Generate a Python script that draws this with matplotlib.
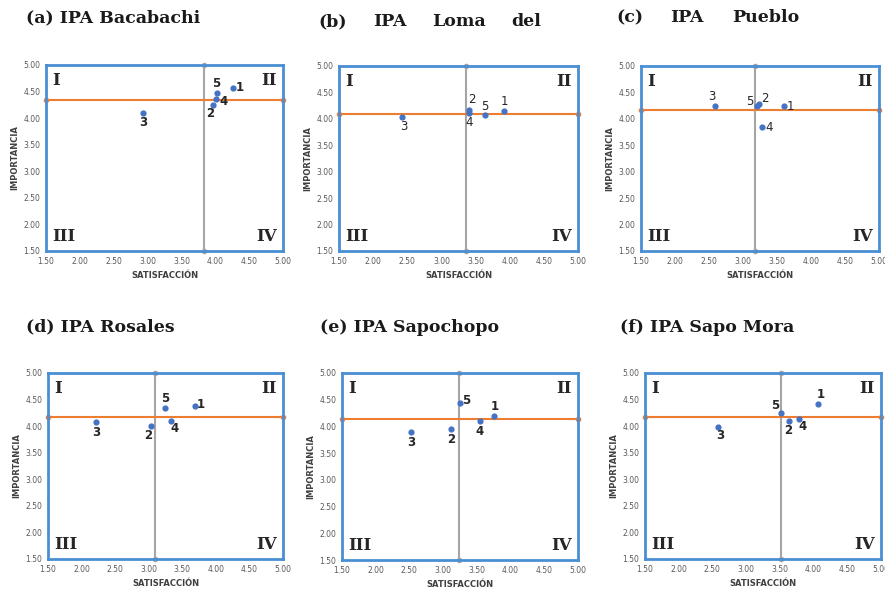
import matplotlib
matplotlib.use("Agg")
import matplotlib.pyplot as plt

# data (satisfaction, importance) per attribute 1..5
ids = ["1", "2", "3", "4", "5"]
titles = [["(a) IPA Bacabachi"], ["(b)", "IPA", "Loma", "del"], ["(c)", "IPA", "Pueblo"],
          ["(d) IPA Rosales"], ["(e) IPA Sapochopo"], ["(f) IPA Sapo Mora"]]
sat = [
    [4.26, 3.97, 2.93, 4.01, 4.03],
    [3.91, 3.41, 2.42, 3.41, 3.64],
    [3.61, 3.24, 2.59, 3.28, 3.20],
    [3.69, 3.04, 2.22, 3.33, 3.24],
    [3.76, 3.12, 2.52, 3.54, 3.25],
    [4.06, 3.64, 2.59, 3.78, 3.51],
]
imp = [
    [4.57, 4.25, 4.10, 4.36, 4.48],
    [4.15, 4.17, 4.04, 4.12, 4.07],
    [4.24, 4.28, 4.25, 3.85, 4.24],
    [4.375, 4.00, 4.07, 4.10, 4.35],
    [4.20, 3.96, 3.90, 4.10, 4.43],
    [4.41, 4.10, 3.99, 4.13, 4.25],
]
mean_sat = [3.84, 3.36, 3.18, 3.09, 3.23, 3.51]
mean_imp = [4.35, 4.10, 4.17, 4.17, 4.13, 4.17]
quadrants = ["I", "II", "III", "IV"]
ticks = [1.5, 2.0, 2.5, 3.0, 3.5, 4.0, 4.5, 5.0]

# label offsets in pixels (styling only)
offs = [
    [(7, 0), (-3, -9), (0, -10), (8, -2), (-1, 9)],
    [(1, 9), (2, 10), (2, -10), (0, -10), (0, 9)],
    [(6, 0), (6, 6), (-3, 9), (7, -1), (-7, 5)],
    [(6, 2), (-3, -9), (0, -10), (4, -8), (0, 9)],
    [(0, 9), (0, -11), (0, -11), (0, -10), (6, 3)],
    [(3, 10), (-1, -10), (2, -9), (4, -7), (-5, 7)],
]
bold_lbl = [True, False, False, True, True, True]

W, H = 885, 596
boxes = [(46, 65, 283, 251), (339, 66, 578, 251), (641, 66, 879, 251),
         (48, 373, 283, 559), (342, 373, 578, 560), (645, 373, 881, 559)]
title_x = [[26], [318, 373, 432, 511], [616, 670, 732], [26], [320], [620]]
title_y = [18, 22, 18, 327, 327, 327]

fig = plt.figure(figsize=(W / 100, H / 100), dpi=100)

for k in range(6):
    x0, y0, x1, y1 = boxes[k]
    ax = fig.add_axes([x0 / W, 1 - y1 / H, (x1 - x0) / W, (y1 - y0) / H])
    ax.set_xlim(1.5, 5.0)
    ax.set_ylim(1.5, 5.0)
    ax.set_xticks(ticks)
    ax.set_yticks(ticks)
    ax.set_xticklabels(["%.2f" % t for t in ticks])
    ax.set_yticklabels(["%.2f" % t for t in ticks])
    ax.tick_params(length=0, labelsize=5.5, labelcolor="#595959", pad=4)
    for s in ax.spines.values():
        s.set_color("#4a8fd4")
        s.set_linewidth(2)
    ax.set_xlabel("SATISFACCIÓN", fontsize=6, fontweight="bold", color="#404040", labelpad=4)
    ax.set_ylabel("IMPORTANCIA", fontsize=6, fontweight="bold", color="#404040", labelpad=3)

    ax.plot([mean_sat[k], mean_sat[k]], [1.5, 5.0], color="#a5a5a5", lw=1.5,
            marker="o", ms=3, clip_on=False, zorder=2)
    ax.plot([1.5, 5.0], [mean_imp[k], mean_imp[k]], color="#ed7d31", lw=1.5,
            marker="o", ms=3, clip_on=False, zorder=2)
    ax.scatter(sat[k], imp[k], s=12, color="#4472c4", zorder=3)
    for i, lab in enumerate(ids):
        ax.annotate(lab, (sat[k][i], imp[k][i]), xytext=offs[k][i],
                    textcoords="offset pixels", ha="center", va="center",
                    fontsize=8.5, color="#262626",
                    fontweight="bold" if bold_lbl[k] else "normal")

    qfont = dict(family="DejaVu Serif", fontweight="bold", fontsize=12, color="#262626")
    ax.text(0.025, 0.96, quadrants[0], transform=ax.transAxes, ha="left", va="top", **qfont)
    ax.text(0.975, 0.96, quadrants[1], transform=ax.transAxes, ha="right", va="top", **qfont)
    ax.text(0.025, 0.03, quadrants[2], transform=ax.transAxes, ha="left", va="bottom", **qfont)
    ax.text(0.975, 0.03, quadrants[3], transform=ax.transAxes, ha="right", va="bottom", **qfont)

    for word, tx in zip(titles[k], title_x[k]):
        fig.text(tx / W, 1 - title_y[k] / H, word, ha="left", va="center",
                 family="DejaVu Serif", fontweight="bold", fontsize=12.5, color="#1a1a1a")

fig.savefig("out.png", dpi=100)
